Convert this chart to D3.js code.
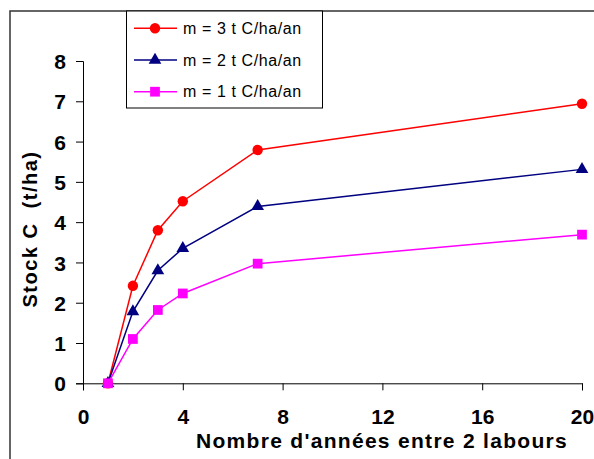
<!DOCTYPE html>
<html>
<head>
<meta charset="utf-8">
<script src="https://cdn.jsdelivr.net/npm/d3@7"></script>
<style>
  body { margin: 0; background: #fff; }
  svg { display: block; font-family: Arial, "Liberation Sans", sans-serif; }
</style>
</head>
<body>
<div id="chart"></div>
<script>
// --- DATA ---
var years = [1, 2, 3, 4, 7, 20];
var stockM3 = [0, 2.42, 3.80, 4.52, 5.79, 6.94];
var stockM2 = [0, 1.78, 2.80, 3.35, 4.39, 5.31];
var stockM1 = [0, 1.10, 1.82, 2.23, 2.97, 3.69];
var seriesNames = ["m = 3 t C/ha/an", "m = 2 t C/ha/an", "m = 1 t C/ha/an"];
var xTicks = [0, 4, 8, 12, 16, 20];
var yTicks = [0, 1, 2, 3, 4, 5, 6, 7, 8];

var series = [
  { name: seriesNames[0], values: stockM3, color: "#ff0000", symbol: d3.symbolCircle, size: 85 },
  { name: seriesNames[1], values: stockM2, color: "#000080", symbol: d3.symbolTriangle, size: 70 },
  { name: seriesNames[2], values: stockM1, color: "#ff00ff", symbol: d3.symbolSquare, size: 95 }
];

// --- SETUP ---
var width = 594, height = 459;
var svg = d3.select("#chart").append("svg")
  .attr("width", width)
  .attr("height", height);

// outer frame
svg.append("rect")
  .attr("x", 10).attr("y", 11)
  .attr("width", 620).attr("height", 480)
  .attr("fill", "none").attr("stroke", "#333").attr("stroke-width", 1.5);

var x = d3.scaleLinear().domain([0, 20]).range([83, 582]);
var y = d3.scaleLinear().domain([0, 8]).range([383.3, 61]);

// --- AXES ---
var xAxis = svg.append("g")
  .attr("transform", "translate(0," + y(0) + ")")
  .call(d3.axisBottom(x).tickValues(xTicks).tickSize(7));
var yAxis = svg.append("g")
  .attr("transform", "translate(" + x(0) + ",0)")
  .call(d3.axisLeft(y).tickValues(yTicks).tickSize(7).tickPadding(10));

[xAxis, yAxis].forEach(function(a) {
  a.select(".domain").attr("stroke", "#000").attr("stroke-width", 1);
  a.selectAll(".tick line").attr("stroke", "#000");
  a.selectAll("text")
    .attr("fill", "#000")
    .style("font-size", "21px")
    .style("font-weight", "bold");
});
xAxis.selectAll("text").attr("y", 41).attr("dy", 0);
yAxis.selectAll("text").attr("dy", "0.36em");

// axis titles
svg.append("text")
  .attr("x", 382).attr("y", 448)
  .attr("text-anchor", "middle")
  .style("font-size", "21px").style("font-weight", "bold")
  .style("letter-spacing", "1.3px")
  .text("Nombre d'années entre 2 labours");

svg.append("text")
  .attr("transform", "translate(37,229) rotate(-90)")
  .attr("text-anchor", "middle")
  .style("font-size", "20px").style("font-weight", "bold")
  .style("letter-spacing", "1.5px")
  .style("white-space", "pre")
  .text("Stock C  (t/ha)");

// --- LINES + MARKERS ---
var line = d3.line()
  .x(function(d, i) { return x(years[i]); })
  .y(function(d) { return y(d); });

series.forEach(function(s) {
  svg.append("path")
    .datum(s.values)
    .attr("d", line)
    .attr("fill", "none")
    .attr("stroke", s.color)
    .attr("stroke-width", 1.5);

  svg.selectAll(null)
    .data(s.values)
    .enter().append("path")
    .attr("d", d3.symbol().type(s.symbol).size(s.size))
    .attr("transform", function(d, i) { return "translate(" + x(years[i]) + "," + y(d) + ")"; })
    .attr("fill", s.color);
});

// --- LEGEND ---
var legend = svg.append("g");
legend.append("rect")
  .attr("x", 126.5).attr("y", 11)
  .attr("width", 196).attr("height", 97)
  .attr("fill", "#fff").attr("stroke", "#000").attr("stroke-width", 1);

series.forEach(function(s, i) {
  var ly = 28.3 + i * 31.7;
  legend.append("line")
    .attr("x1", 134).attr("x2", 177)
    .attr("y1", ly).attr("y2", ly)
    .attr("stroke", s.color).attr("stroke-width", 1.5);
  legend.append("path")
    .attr("d", d3.symbol().type(s.symbol).size(s.size))
    .attr("transform", "translate(155," + ly + ")")
    .attr("fill", s.color);
  legend.append("text")
    .attr("x", 183).attr("y", ly)
    .attr("dy", "0.36em")
    .style("font-size", "16px")
    .style("letter-spacing", "0.6px")
    .text(s.name);
});
</script>
</body>
</html>
